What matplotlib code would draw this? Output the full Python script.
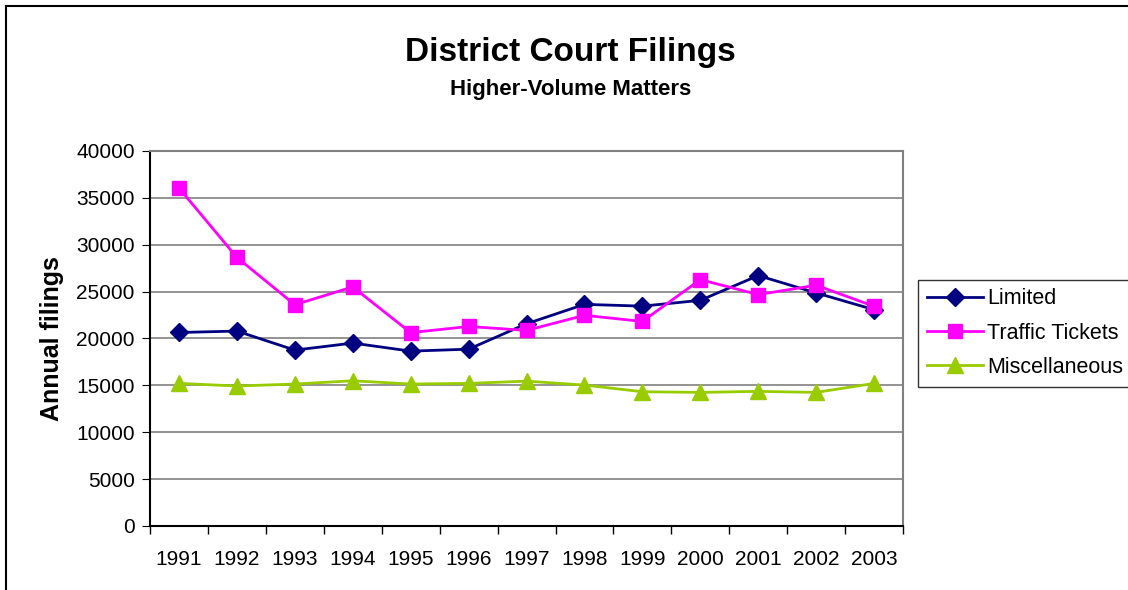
import numpy as np
import matplotlib
matplotlib.use("Agg")
import matplotlib.pyplot as plt
from matplotlib.lines import Line2D

plt.rcParams['font.family'] = ['Liberation Sans', 'DejaVu Sans']

years = ["1991", "1992", "1993", "1994", "1995", "1996", "1997",
         "1998", "1999", "2000", "2001", "2002", "2003"]
limited = [20640, 20790, 18760, 19510, 18650, 18860, 21570,
           23640, 23450, 24070, 26710, 24860, 23070]
traffic = [36050, 28650, 23600, 25500, 20620, 21280, 20860,
           22470, 21820, 26280, 24680, 25680, 23430]
misc = [15210, 14930, 15140, 15490, 15140, 15210, 15450,
        15030, 14320, 14250, 14360, 14250, 15210]

fig = plt.figure(figsize=(11.28, 5.9), dpi=100)
ax = fig.add_axes([0.133, 0.1085, 0.6676, 0.6356])

x = np.arange(len(years))
ax.plot(x, limited, color="#000080", lw=2, marker="D", ms=9, label="Limited")
ax.plot(x, traffic, color="#FF00FF", lw=2, marker="s", ms=10, label="Traffic Tickets")
ax.plot(x, misc, color="#99CC00", lw=2, marker="^", ms=12, label="Miscellaneous")

ax.set_xlim(-0.5, len(years) - 0.5)
ax.set_ylim(0, 40000)
ax.set_yticks(np.arange(0, 40001, 5000))
ax.yaxis.grid(True, color="#808080", lw=1.2)
ax.set_axisbelow(True)

ax.set_xticks(x)
ax.set_xticklabels(years)
ax.set_xticks(np.arange(-0.5, len(years)), minor=True)
ax.tick_params(axis="x", which="major", length=0, pad=17, labelsize=15)
ax.tick_params(axis="x", which="minor", length=6, direction="out", width=1)
ax.tick_params(axis="y", length=6, direction="out", labelsize=15, pad=5)

for side in ["top", "right"]:
    ax.spines[side].set_color("#808080")
    ax.spines[side].set_linewidth(1.5)
for side in ["left", "bottom"]:
    ax.spines[side].set_color("black")
    ax.spines[side].set_linewidth(1.5)

ax.set_ylabel("Annual filings", fontsize=18, fontweight="bold", labelpad=9)

fig.text(0.506, 0.911, "District Court Filings", ha="center", va="center",
         fontsize=24, fontweight="bold")
fig.text(0.506, 0.849, "Higher-Volume Matters", ha="center", va="center",
         fontsize=16, fontweight="bold")

leg = fig.legend(loc="upper left", bbox_to_anchor=(0.814, 0.526), fontsize=15.5,
                 frameon=True, fancybox=False, edgecolor="black",
                 handlelength=2.6, labelspacing=0.62, borderpad=0.4,
                 handletextpad=0.2, borderaxespad=0)
leg.get_frame().set_linewidth(1)

# outer chart border (left and top)
fig.add_artist(Line2D([0.0053, 0.0053], [0, 0.99], color="black", lw=1.5,
                      transform=fig.transFigure))
fig.add_artist(Line2D([0.0053, 1.0], [0.99, 0.99], color="black", lw=1.5,
                      transform=fig.transFigure))

fig.savefig("out.png", dpi=100)
